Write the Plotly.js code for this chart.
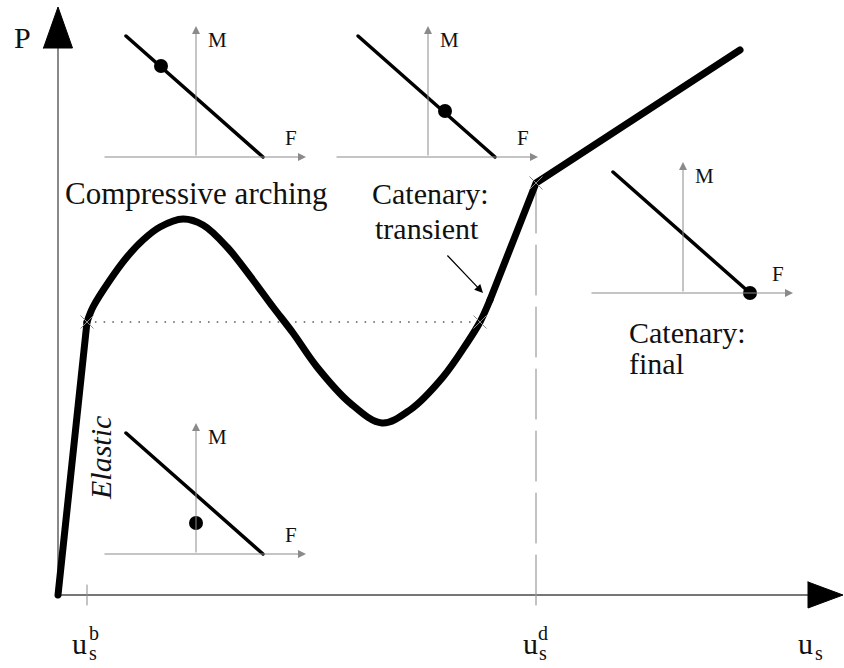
<!DOCTYPE html>
<html>
<head>
<meta charset="utf-8">
<script src="https://cdn.plot.ly/plotly-3.0.1.min.js"></script>
<style>
html,body{margin:0;padding:0;background:#fff;}
#chart{width:844px;height:668px;}
.js-line{stroke-linecap:round;stroke-linejoin:round;}
</style>
</head>
<body>
<div id="chart"></div>
<script>
// Slab load P against support displacement u_s (arbitrary units)
const elasticU = [0, 29];
const elasticP = [0, 273];
const archU = [29, 35, 52, 69, 85, 102, 125, 145, 169, 195, 215, 235, 259, 292, 324, 352, 385, 409, 422, 432];
const archP = [273, 288, 315, 338, 355, 368, 376, 370, 348, 315, 288, 262, 228, 192, 172, 185, 218, 252, 273, 295];
const catenaryU = [432, 478, 682];
const catenaryP = [295, 412, 545];

// Stage boundaries
const uB = 29;        // end of elastic stage
const uD = 478;       // onset of final catenary stage
const uRecross = 422; // load climbs back to the yield level
const pYield = 273;
const pD = 412;

// Moment–axial force insets: frame origin (in chart units) and state point
const insetU = [138, 370, 625, 138];
const insetP = [438, 438, 302, 41];
const stateF = [-35, 17, 67, 0];
const stateM = [91, 46, 0, 31];
const envelopeF = [-70, 67];
const envelopeM = [121, 0];

// Axis extents
const uTip = 785, pTip = 588;
const fMin = -93, fMax = 110, mMax = 131;

const serif = 'Liberation Serif';
const axisGrey = '#4a4a4a';
const lightGrey = '#8a8a8a';

const traces = [];
const annotations = [];

function line(x, y, color, width, dash, extra) {
  traces.push(Object.assign({
    type: 'scatter', mode: 'lines', x: x, y: y,
    line: {color: color, width: width, dash: dash || 'solid'},
    hoverinfo: 'skip'
  }, extra || {}));
}

function label(text, x, y, size, opts) {
  annotations.push(Object.assign({
    text: text, x: x, y: y, xref: 'x', yref: 'y', showarrow: false,
    xanchor: 'center', yanchor: 'middle',
    font: {family: serif, size: size, color: '#111'}
  }, opts || {}));
}

function arrow(x0, y0, x1, y1, color, width, head, size) {
  annotations.push({
    text: '', x: x1, y: y1, ax: x0, ay: y0,
    xref: 'x', yref: 'y', axref: 'x', ayref: 'y',
    showarrow: true, arrowhead: head, arrowsize: size,
    arrowwidth: width, arrowcolor: color, standoff: 0, startstandoff: 0
  });
}

// Main axes with solid arrowheads
line([0, uTip - 34], [0, 0], axisGrey, 1.3);
line([0, 0], [0, pTip - 40], axisGrey, 1.3);
traces.push({type: 'scatter', mode: 'lines', x: [uTip - 35, uTip - 35, uTip, uTip - 35], y: [13, -13, 0, 13],
  fill: 'toself', fillcolor: '#000', line: {color: '#000', width: 1}, hoverinfo: 'skip'});
traces.push({type: 'scatter', mode: 'lines', x: [-14.5, 14.5, 0, -14.5], y: [pTip - 41, pTip - 41, pTip, pTip - 41],
  fill: 'toself', fillcolor: '#000', line: {color: '#000', width: 1}, hoverinfo: 'skip'});

// Stage markers on the displacement axis
line([uB, uB], [-10, 10], lightGrey, 1);
line([uD, uD], [-10, pD], '#9a9a9a', 1.2, '50px,12px');
line([uB, uRecross], [pYield, pYield], '#777', 1.9, '0px,8.7px');

// Load–displacement path
line(elasticU, elasticP, '#000', 7);
line(archU, archP, '#000', 7, 'solid', {line: {color: '#000', width: 7, shape: 'spline', smoothing: 1}});
line(catenaryU, catenaryP, '#000', 7);

// Yield / transition crosses
traces.push({type: 'scatter', mode: 'markers', x: [uB, uRecross, uD], y: [pYield, pYield, pD],
  marker: {symbol: 'x-thin', size: 13, line: {color: lightGrey, width: 1}}, hoverinfo: 'skip'});

// Insets
for (let i = 0; i < insetU.length; i++) {
  const ou = insetU[i], op = insetP[i];
  arrow(ou + fMin, op, ou + fMax, op, lightGrey, 1, 2, 1.6);
  arrow(ou, op, ou, op + mMax, lightGrey, 1, 2, 1.6);
  line(envelopeF.map(f => ou + f), envelopeM.map(m => op + m), '#000', 3.5);
  traces.push({type: 'scatter', mode: 'markers', x: [ou + stateF[i]], y: [op + stateM[i]],
    marker: {color: '#000', size: 14}, hoverinfo: 'skip'});
  label('M', ou + 21, op + 117, 21);
  label('F', ou + 95, op + 19, 21);
}

// Axis labels
label('P', -36, 558, 30);
label('u', 21.5, -48, 30);
label('s', 34.5, -58, 20);
label('b', 36, -38, 20);
label('u', 472, -48, 30);
label('s', 484.5, -58, 20);
label('d', 485, -38, 20);
label('u', 747, -48, 30);
label('s', 760.5, -58, 20);

// Stage labels
label('Compressive arching', 138, 402, 31);
label('Catenary:', 372, 402, 30);
label('transient', 369, 367, 30);
label('Catenary:', 569, 263, 30, {xanchor: 'left'});
label('final', 569, 232, 30, {xanchor: 'left'});
label('<i>Elastic</i>', 42, 137, 30, {textangle: -90});
arrow(388, 341, 425, 302, '#000', 1.2, 2, 1.4);

const layout = {
  width: 844, height: 668,
  margin: {l: 0, r: 0, t: 0, b: 0},
  paper_bgcolor: '#fff', plot_bgcolor: '#fff',
  showlegend: false,
  xaxis: {range: [-58, 786], visible: false, fixedrange: true},
  yaxis: {range: [-73, 595], visible: false, fixedrange: true},
  annotations: annotations,
  hovermode: false
};

Plotly.newPlot('chart', traces, layout, {staticPlot: true, displayModeBar: false});
</script>
</body>
</html>
